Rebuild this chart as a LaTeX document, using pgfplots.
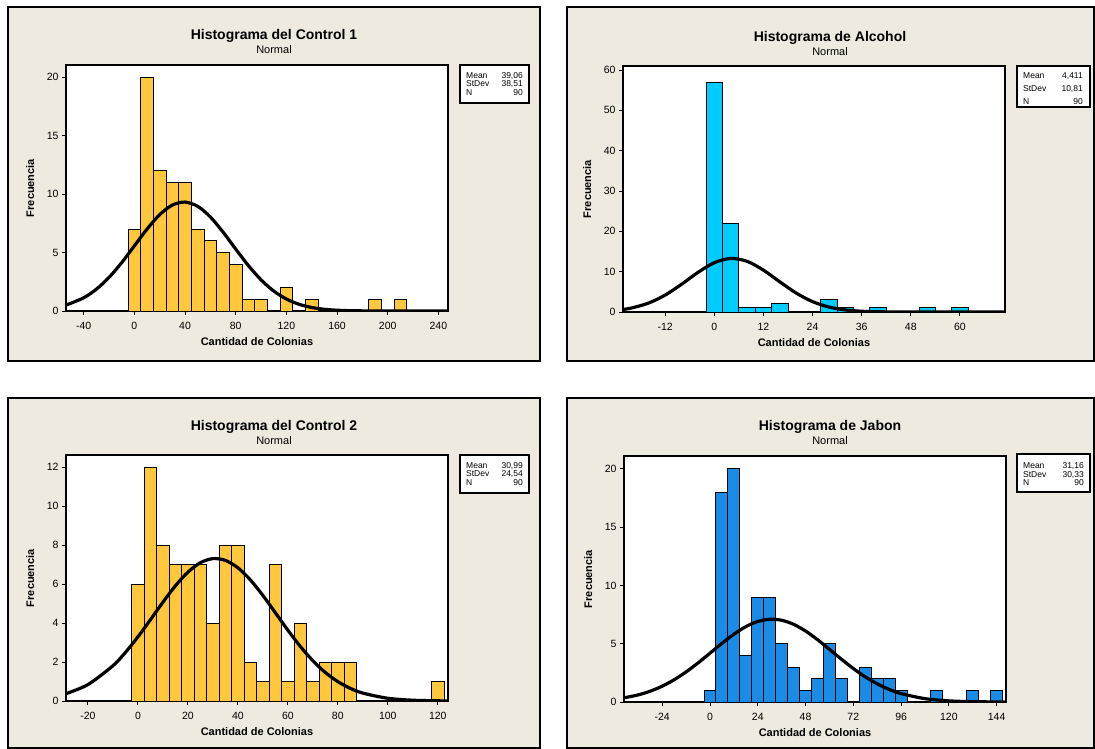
\documentclass[border=0pt]{standalone}
\usepackage{fontspec}
\setmainfont{Liberation Sans}
\usepackage{pgfplots}
\pgfplotsset{compat=1.18}
\definecolor{panelbg}{RGB}{238,234,224}
\definecolor{barorange}{RGB}{255,200,60}
\definecolor{barcyan}{RGB}{0,204,255}
\definecolor{barblue}{RGB}{26,140,230}
\pgfplotsset{hist/.style={
  scale only axis, width=382pt, height=246pt, anchor=south west,
  ymin=0,
  axis background/.style={fill=white},
  axis line style={black, line width=1.2pt},
  tick align=outside, xtick pos=left, ytick pos=left,
  major tick length=4pt,
  every tick/.style={black, line width=1pt},
  tick label style={font=\fontsize{10.5}{10.5}\selectfont},
  xticklabel style={yshift=-3.5pt},
  xlabel={\textbf{Cantidad de Colonias}},
  ylabel={\textbf{Frecuencia}},
  label style={font=\fontsize{11}{11}\selectfont},
  xlabel style={at={(axis description cs:0.5,-0.126)}, anchor=center},
  ylabel style={at={(axis description cs:-0.094,0.5)}, anchor=center},
}}
\tikzset{curve/.style={black, line width=3.2pt, smooth, mark=none},
  bars/.style={ybar, draw=black, line width=1pt, mark=none}}
\begin{document}
\begin{tikzpicture}[x=1pt,y=-1pt]
\fill[white] (0,0) rectangle (1095,749);
\foreach \a/\b/\c/\d in {8/7/540/361, 567/7/1094/361, 8/398/540/748, 567/398/1094/748}
  \draw[fill=panelbg, line width=1.5pt] (\a,\b) rectangle (\c,\d);

% Panel 1
\begin{axis}[hist, at={(66pt,-311pt)}, xmin=-54, xmax=247.6, ymax=21.05,
  xtick={-40,0,40,80,120,160,200,240}, xticklabels={-40,0,40,80,120,160,200,240},
  ytick={0,5,10,15,20}, yticklabels={0,5,10,15,20}]
\addplot[bars, bar width=10, fill=barorange] coordinates {(0,7)(10,20)(20,12)(30,11)(40,11)(50,7)(60,6)(70,5)(80,4)(90,1)(100,1)(120,2)(140,1)(190,1)(210,1)};
\addplot[curve] coordinates {(-54,0.503)(-40,1.134)(-30,1.868)(-20,2.877)(-10,4.142)(0,5.575)(10,7.013)(20,8.249)(30,9.069)(40,9.321)(50,8.956)(60,8.043)(70,6.752)(80,5.299)(90,3.887)(100,2.666)(110,1.709)(120,1.025)(130,0.574)(140,0.300)(150,0.147)(160,0.067)(170,0.029)(180,0.012)(200,0.001)(248,0)};
\end{axis}

% Panel 2
\begin{axis}[hist, at={(623pt,-312pt)}, xmin=-22.3, xmax=71, ymax=61,
  xtick={-12,0,12,24,36,48,60}, xticklabels={-12,0,12,24,36,48,60},
  ytick={0,10,20,30,40,50,60}, yticklabels={0,10,20,30,40,50,60}]
\addplot[bars, bar width=4, fill=barcyan] coordinates {(0,57)(4,22)(8,1)(12,1)(16,2)(28,3)(32,1)(40,1)(52,1)(60,1)};
\addplot[curve] coordinates {(-22.3,0.627)(-20,1.038)(-16,2.235)(-12,4.197)(-8,6.873)(-4,9.816)(0,12.225)(4,13.276)(8,12.574)(12,10.384)(16,7.479)(20,4.697)(24,2.572)(28,1.229)(32,0.512)(36,0.186)(40,0.059)(44,0.016)(48,0.004)(71,0)};
\end{axis}

% Panel 3
\begin{axis}[hist, at={(66pt,-701pt)}, xmin=-28.8, xmax=124.1, ymax=12.63,
  xtick={-20,0,20,40,60,80,100,120}, xticklabels={-20,0,20,40,60,80,100,120},
  ytick={0,2,4,6,8,10,12}, yticklabels={0,2,4,6,8,10,12}]
\addplot[bars, bar width=5, fill=barorange] coordinates {(0,6)(5,12)(10,8)(15,7)(20,7)(25,7)(30,4)(35,8)(40,8)(45,2)(50,1)(55,7)(60,1)(65,4)(70,1)(75,2)(80,2)(85,2)(120,1)};
\addplot[curve] coordinates {(-29,0.369)(-20,0.845)(-10,1.813)(-5,2.496)(0,3.296)(5,4.175)(10,5.074)(15,5.916)(20,6.618)(25,7.101)(30,7.310)(35,7.219)(40,6.839)(45,6.216)(50,5.420)(55,4.533)(60,3.638)(65,2.800)(70,2.068)(75,1.465)(80,0.996)(85,0.649)(90,0.406)(100,0.140)(110,0.041)(120,0.010)(124.1,0.005)};
\end{axis}

% Panel 4
\begin{axis}[hist, at={(624pt,-702pt)}, xmin=-43.2, xmax=148.7, ymax=21.1,
  xtick={-24,0,24,48,72,96,120,144}, xticklabels={-24,0,24,48,72,96,120,144},
  ytick={0,5,10,15,20}, yticklabels={0,5,10,15,20}]
\addplot[bars, bar width=6, fill=barblue] coordinates {(0,1)(6,18)(12,20)(18,4)(24,9)(30,9)(36,5)(42,3)(48,1)(54,2)(60,5)(66,2)(78,3)(84,2)(90,2)(96,1)(114,1)(132,1)(144,1)};
\addplot[curve] coordinates {(-43.2,0.357)(-36,0.612)(-30,0.930)(-24,1.359)(-18,1.910)(-12,2.581)(-6,3.353)(0,4.190)(6,5.035)(12,5.818)(18,6.465)(24,6.908)(30,7.098)(36,7.013)(42,6.663)(48,6.089)(54,5.349)(60,4.520)(66,3.672)(72,2.869)(78,2.156)(84,1.558)(90,1.082)(96,0.723)(108,0.287)(120,0.097)(132,0.028)(144,0.007)(148.7,0.004)};
\end{axis}

% Titles
\begin{scope}[every node/.style={inner sep=0pt}]
\node[anchor=base, font=\fontsize{14}{14}\selectfont\bfseries] at (274,40) {Histograma del Control 1};
\node[anchor=base, font=\fontsize{11}{11}\selectfont] at (274,54) {Normal};
\node[anchor=base, font=\fontsize{14}{14}\selectfont\bfseries] at (830,42) {Histograma de Alcohol};
\node[anchor=base, font=\fontsize{11}{11}\selectfont] at (830,56) {Normal};
\node[anchor=base, font=\fontsize{14}{14}\selectfont\bfseries] at (274,430) {Histograma del Control 2};
\node[anchor=base, font=\fontsize{11}{11}\selectfont] at (274,444) {Normal};
\node[anchor=base, font=\fontsize{14}{14}\selectfont\bfseries] at (830,430) {Histograma de Jabon};
\node[anchor=base, font=\fontsize{11}{11}\selectfont] at (830,444) {Normal};
\end{scope}

% Stat boxes
\begin{scope}[every node/.style={inner sep=0pt, font=\fontsize{8.5}{8.5}\selectfont}]
\draw[fill=white, line width=1.6pt] (460,65) rectangle (529,103);
\node[anchor=mid west] at (466,75.5) {Mean}; \node[anchor=mid east] at (523,75.5) {39,06};
\node[anchor=mid west] at (466,84) {StDev}; \node[anchor=mid east] at (523,84) {38,51};
\node[anchor=mid west] at (466,92.5) {N}; \node[anchor=mid east] at (523,92.5) {90};

\draw[fill=white, line width=1.6pt] (1017,66) rectangle (1090,107);
\node[anchor=mid west] at (1023,76) {Mean}; \node[anchor=mid east] at (1083,76) {4,411};
\node[anchor=mid west] at (1023,89) {StDev}; \node[anchor=mid east] at (1083,89) {10,81};
\node[anchor=mid west] at (1023,102) {N}; \node[anchor=mid east] at (1083,102) {90};

\draw[fill=white, line width=1.6pt] (460,455) rectangle (529,493);
\node[anchor=mid west] at (466,465.5) {Mean}; \node[anchor=mid east] at (523,465.5) {30,99};
\node[anchor=mid west] at (466,474) {StDev}; \node[anchor=mid east] at (523,474) {24,54};
\node[anchor=mid west] at (466,482.5) {N}; \node[anchor=mid east] at (523,482.5) {90};

\draw[fill=white, line width=1.6pt] (1017,454) rectangle (1090,492);
\node[anchor=mid west] at (1023,465.7) {Mean}; \node[anchor=mid east] at (1084,465.7) {31,16};
\node[anchor=mid west] at (1023,475) {StDev}; \node[anchor=mid east] at (1084,475) {30,33};
\node[anchor=mid west] at (1023,483.3) {N}; \node[anchor=mid east] at (1084,483.3) {90};
\end{scope}
\end{tikzpicture}
\end{document}
